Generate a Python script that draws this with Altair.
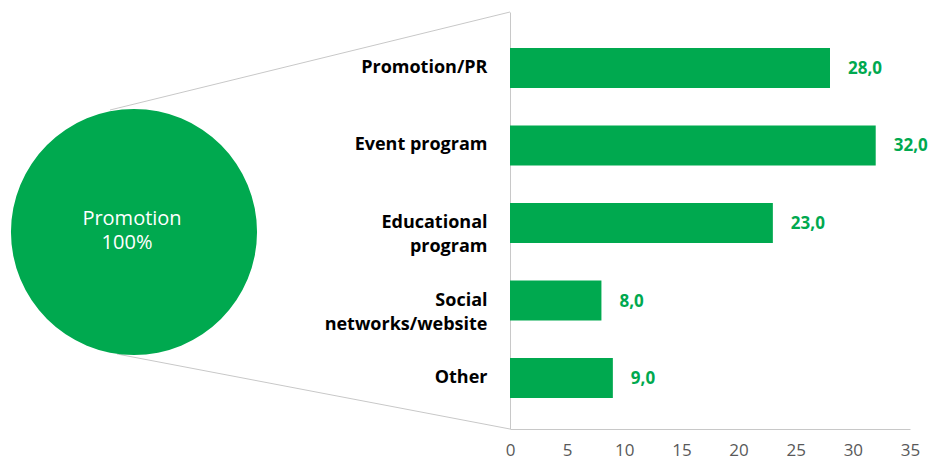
import altair as alt
import pandas as pd

# ---- data ----
categories = ["Promotion/PR", "Event program", "Educational\nprogram",
              "Social\nnetworks/website", "Other"]
values = [28.0, 32.0, 23.0, 8.0, 9.0]
value_labels = ["28,0", "32,0", "23,0", "8,0", "9,0"]
x_ticks = [0, 5, 10, 15, 20, 25, 30, 35]
pie_labels = ["Promotion"]
pie_shares = [100]

GREEN = "#00A94F"
GRAY = "#C8C8C8"
FONT = "Open Sans"

bars_df = pd.DataFrame({"category": categories, "value": values, "label": value_labels})
pie_df = pd.DataFrame({"name": pie_labels, "share": pie_shares})

y_enc = alt.Y("category:N", sort=categories,
              scale=alt.Scale(paddingInner=0, paddingOuter=0.19, align=0.585),
              axis=alt.Axis(title=None, ticks=False, domainColor=GRAY, labelFont=FONT,
                            labelFontSize=18, labelFontWeight="bold", labelColor="#000000",
                            labelPadding=23, labelLineHeight=24, labelLimit=300,
                            labelExpr="split(datum.label, '\\n')"))
x_enc = alt.X("value:Q", scale=alt.Scale(domain=[0, 35], nice=False),
              axis=alt.Axis(title=None, values=x_ticks, ticks=False, grid=False,
                            labelFlush=False, domainColor=GRAY, labelFont=FONT,
                            labelFontSize=17, labelColor="#595959", labelPadding=13))

bars = alt.Chart(bars_df).mark_bar(size=40, color=GREEN).encode(x=x_enc, y=y_enc)

vals = alt.Chart(bars_df).mark_text(align="left", baseline="middle", dx=18, dy=1,
                                     font=FONT, fontSize=17, fontWeight="bold",
                                     color=GREEN).encode(
    x=alt.X("value:Q"), y=alt.Y("category:N", sort=categories), text="label:N")

pie = alt.Chart(pie_df).mark_arc(radius=123, color=GREEN).encode(
    theta=alt.Theta("share:Q", scale=alt.Scale(domain=[0, 100])),
    x=alt.value(-376), y=alt.value(220))

pie_name = alt.Chart(pie_df).mark_text(
    align="center", baseline="middle", font=FONT, fontSize=20, color="white"
).encode(text="name:N", x=alt.value(-378), y=alt.value(207))

pie_pct = alt.Chart(pie_df).transform_calculate(
    pct="datum.share + '%'"
).mark_text(
    align="center", baseline="middle", font=FONT, fontSize=20, color="white"
).encode(text="pct:N", x=alt.value(-383), y=alt.value(231))

line_top = alt.Chart(pie_df).mark_rule(color=GRAY, strokeWidth=1).encode(
    x=alt.value(-400), y=alt.value(98), x2=alt.value(0), y2=alt.value(0))
line_bot = alt.Chart(pie_df).mark_rule(color=GRAY, strokeWidth=1).encode(
    x=alt.value(-393), y=alt.value(342), x2=alt.value(0), y2=alt.value(417))

chart = alt.layer(line_top, line_bot, pie, pie_name, pie_pct, bars, vals).resolve_scale(
    theta="independent"
).properties(
    width=400, height=417,
    padding={"left": 3, "top": 3, "right": 5, "bottom": 5},
).configure_view(stroke=None)

chart.save("out.html", embed_options={"renderer": "svg", "actions": False})
